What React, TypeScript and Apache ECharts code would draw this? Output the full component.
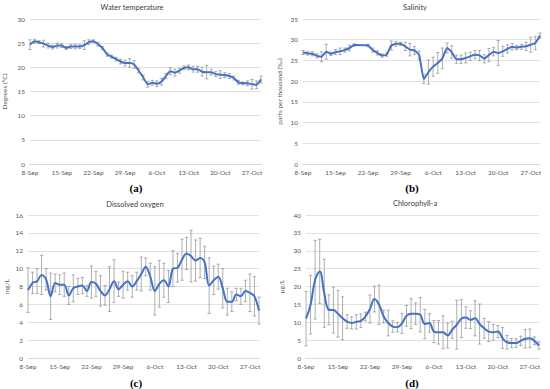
import React, { useEffect, useRef } from "react";
import * as echarts from "echarts";

const dates = [
  "8-Sep", "9-Sep", "10-Sep", "11-Sep", "12-Sep", "13-Sep", "14-Sep",
  "15-Sep", "16-Sep", "17-Sep", "18-Sep", "19-Sep", "20-Sep", "21-Sep",
  "22-Sep", "23-Sep", "24-Sep", "25-Sep", "26-Sep", "27-Sep", "28-Sep",
  "29-Sep", "30-Sep", "1-Oct", "2-Oct", "3-Oct", "4-Oct", "5-Oct",
  "6-Oct", "7-Oct", "8-Oct", "9-Oct", "10-Oct", "11-Oct", "12-Oct",
  "13-Oct", "14-Oct", "15-Oct", "16-Oct", "17-Oct", "18-Oct", "19-Oct",
  "20-Oct", "21-Oct", "22-Oct", "23-Oct", "24-Oct", "25-Oct", "26-Oct",
  "27-Oct", "28-Oct", "29-Oct",
];

const tempMean = [24.7, 25.4, 25.2, 24.9, 24.5, 24.2, 24.5, 24.5, 24.0, 24.3, 24.3, 24.3, 24.6, 25.2, 25.4, 24.8, 24.0, 22.7, 22.2, 21.7, 21.2, 20.9, 20.9, 20.6, 19.3, 17.9, 16.5, 16.8, 16.6, 17.0, 18.2, 19.2, 18.9, 19.3, 19.9, 20.0, 19.6, 19.6, 19.1, 19.0, 19.0, 18.6, 18.5, 18.4, 18.2, 17.8, 16.9, 16.7, 16.7, 16.5, 16.4, 17.5];
const tempErr = [1.0, 0.4, 0.3, 0.7, 0.5, 0.4, 0.5, 0.4, 0.3, 0.4, 0.5, 0.4, 0.9, 0.5, 0.3, 0.4, 0.3, 0.4, 0.3, 0.4, 0.5, 0.6, 0.9, 0.8, 0.4, 0.5, 0.6, 0.5, 0.6, 0.7, 0.5, 0.7, 0.7, 0.5, 0.4, 0.5, 0.6, 0.6, 0.9, 1.4, 0.6, 0.5, 0.8, 0.5, 0.5, 0.4, 0.4, 0.3, 0.5, 1.0, 0.8, 0.7];

const salMean = [26.9, 26.7, 26.6, 26.1, 25.9, 27.1, 26.6, 27.0, 27.2, 27.5, 28.0, 28.7, null, null, 28.6, 27.5, 26.8, 26.2, 26.4, 28.6, 29.0, 29.0, 28.4, 27.6, 27.4, 26.3, 20.5, 22.2, 23.5, 24.4, 25.5, 28.0, 27.0, 25.3, 25.3, 25.6, 26.0, 26.4, 26.2, 25.4, 26.3, 27.1, 26.8, 27.2, 27.8, 28.3, 28.1, 28.3, 28.4, 28.8, 29.2, 31.0];
const salErr = [0.5, 0.4, 0.5, 0.5, 1.2, 1.8, 0.4, 0.6, 0.8, 0.5, 0.7, 0.3, 0, 0, 0.3, 0.5, 0.5, 0.4, 0.4, 1.1, 0.6, 0.4, 1.0, 1.5, 1.0, 1.0, 1.1, 2.9, 2.3, 2.5, 2.5, 1.2, 1.5, 1.0, 1.0, 1.2, 1.0, 1.0, 1.2, 1.0, 1.6, 1.0, 3.0, 1.2, 1.0, 0.8, 0.5, 0.6, 1.0, 1.8, 1.6, 0.6];

const doMean = [7.6, 8.4, 8.6, 9.3, 8.8, 6.9, 8.4, 8.2, 8.2, 7.0, 7.8, 8.0, 8.1, 7.5, 8.5, 8.3, 7.5, 7.0, 7.7, 8.6, 7.7, 8.2, 8.6, 8.0, 8.6, 9.4, 10.2, 9.1, 7.5, 8.3, 8.7, 8.0, 10.0, 10.1, 11.0, 11.7, 11.4, 10.9, 11.2, 10.7, 8.1, 8.7, 9.1, 7.8, 6.3, 6.3, 7.1, 6.9, 7.5, 7.3, 6.9, 5.3];
const doErr = [2.5, 1.2, 1.4, 2.2, 1.2, 2.6, 1.0, 1.1, 1.3, 1.0, 1.5, 0.9, 0.9, 0.6, 1.8, 1.4, 1.7, 1.1, 2.5, 2.4, 0.8, 1.5, 1.0, 1.2, 1.0, 1.9, 1.0, 1.5, 2.7, 2.6, 1.9, 1.8, 2.0, 1.6, 2.3, 1.8, 2.9, 2.3, 2.2, 1.8, 3.1, 1.6, 1.4, 2.2, 1.5, 1.1, 0.7, 0.9, 1.2, 2.1, 2.2, 1.5];

const chlMean = [11.0, 14.9, 21.9, 24.2, 18.1, 13.5, 13.4, 12.4, 11.1, 10.2, 9.8, 10.1, 10.4, 11.6, 13.7, 16.5, 14.9, 11.6, 9.8, 8.8, 8.6, 9.7, 11.8, 12.4, 12.4, 12.1, 9.5, 9.8, 7.4, 7.2, 7.2, 6.3, 7.9, 9.3, 11.0, 11.3, 10.7, 11.1, 9.5, 8.3, 7.4, 7.2, 7.4, 5.6, 4.4, 4.2, 4.2, 4.8, 5.4, 5.5, 4.8, 3.5];
const chlErr = [7.6, 8.2, 11.0, 9.0, 9.5, 4.2, 6.4, 6.5, 6.0, 1.9, 1.7, 2.0, 1.9, 1.2, 3.9, 3.6, 5.5, 1.8, 3.6, 1.6, 1.3, 2.8, 2.9, 4.2, 3.0, 4.8, 4.1, 2.6, 3.1, 3.3, 4.6, 3.5, 2.4, 6.8, 5.3, 3.0, 2.5, 4.9, 5.6, 2.8, 2.8, 2.2, 1.7, 2.9, 1.9, 1.3, 1.2, 1.3, 2.6, 2.6, 1.1, 1.0];

const titles = ["Water temperature", "Salinity", "Dissolved oxygen", "Chlorophyll-a"];
const yNames = ["Degrees (°C)", "parts per thousand (‰)", "mg/L", "µg/L"];
const panelLabels = ["(a)", "(b)", "(c)", "(d)"];
const yMax = [30, 35, 16, 40];
const yStep = [5, 5, 2, 5];

const FONT = "Lato, 'Liberation Sans', sans-serif";
const BLUE = "#4472C4";
const GRID = "#d9d9d9";
const LABEL = "#595959";

export default function App() {
  const ref = useRef<HTMLDivElement>(null);
  useEffect(() => {
    document.body.style.margin = "0";
    if (!ref.current) return;
    const chart = echarts.init(ref.current, null, { renderer: "svg" });

    const means = [tempMean, salMean, doMean, chlMean];
    const errs = [tempErr, salErr, doErr, chlErr];
    const grids = [
      { left: 28, top: 19, width: 233, height: 145 },
      { left: 303, top: 19, width: 237, height: 145 },
      { left: 28, top: 215, width: 231, height: 143 },
      { left: 306, top: 215, width: 233, height: 143 },
    ];
    const nameGaps = [22, 20, 18, 21];
    const smooths = [0.2, 0.15, 0.35, 0.4];

    const errorRender = (params: any, api: any) => {
      const i = api.value(0);
      const lo = api.value(1);
      const hi = api.value(2);
      if (!(hi - lo > 0)) return null;
      const p1 = api.coord([i, hi]);
      const p2 = api.coord([i, lo]);
      const w = 1.6;
      const style = { stroke: "#8c8c8c", lineWidth: 0.7 };
      return {
        type: "group",
        children: [
          { type: "line", shape: { x1: p1[0], y1: p1[1], x2: p2[0], y2: p2[1] }, style },
          { type: "line", shape: { x1: p1[0] - w, y1: p1[1], x2: p1[0] + w, y2: p1[1] }, style },
          { type: "line", shape: { x1: p2[0] - w, y1: p2[1], x2: p2[0] + w, y2: p2[1] }, style },
        ],
      };
    };

    const series: any[] = [];
    means.forEach((m, k) => {
      series.push({
        type: "custom",
        xAxisIndex: k,
        yAxisIndex: k,
        renderItem: errorRender,
        encode: { x: 0, y: [1, 2] },
        data: m.map((v, i) =>
          v == null ? [i, 0, 0] : [i, (v as number) - errs[k][i], (v as number) + errs[k][i]]
        ),
        z: 2,
        silent: true,
      });
      series.push({
        type: "line",
        xAxisIndex: k,
        yAxisIndex: k,
        data: m,
        smooth: smooths[k],
        connectNulls: true,
        showSymbol: false,
        lineStyle: { color: BLUE, width: 2 },
        z: 3,
      });
    });

    const graphic: any[] = [];
    const titlePos = [[132, 7], [415, 7], [135, 204], [415, 203]];
    const labelPos = [[136, 188], [412, 188], [136, 383], [412, 383]];
    titles.forEach((t, k) => {
      graphic.push({
        type: "text",
        x: titlePos[k][0],
        y: titlePos[k][1],
        style: { text: t, fontFamily: FONT, fontSize: 7.5, fill: "#404040", textAlign: "center", textVerticalAlign: "middle" },
      });
      graphic.push({
        type: "text",
        x: labelPos[k][0],
        y: labelPos[k][1],
        style: { text: panelLabels[k], fontFamily: "'Liberation Serif', serif", fontWeight: "bold", fontSize: 11, fill: "#000", textAlign: "center", textVerticalAlign: "middle" },
      });
    });

    chart.setOption({
      animation: false,
      backgroundColor: "#fff",
      grid: grids,
      xAxis: grids.map((_, k) => ({
        type: "category",
        gridIndex: k,
        data: dates,
        boundaryGap: false,
        axisLine: { show: true, lineStyle: { color: GRID, width: 1 } },
        axisTick: { show: false },
        axisLabel: { interval: 6, fontFamily: FONT, fontSize: 6.5, color: LABEL, margin: 5, showMinLabel: true },
        splitLine: { show: false },
      })),
      yAxis: grids.map((_, k) => ({
        type: "value",
        gridIndex: k,
        min: 0,
        max: yMax[k],
        interval: yStep[k],
        name: yNames[k],
        nameLocation: "middle",
        nameRotate: 90,
        nameGap: nameGaps[k],
        nameTextStyle: { fontFamily: FONT, fontSize: 6.5, color: LABEL },
        axisLine: { show: false },
        axisTick: { show: false },
        axisLabel: { fontFamily: FONT, fontSize: 6.5, color: LABEL, margin: 5 },
        splitLine: { show: true, lineStyle: { color: GRID, width: 0.8 } },
      })),
      series,
      graphic,
    });

    return () => chart.dispose();
  }, []);
  return <div ref={ref} style={{ width: 550, height: 389 }} />;
}
